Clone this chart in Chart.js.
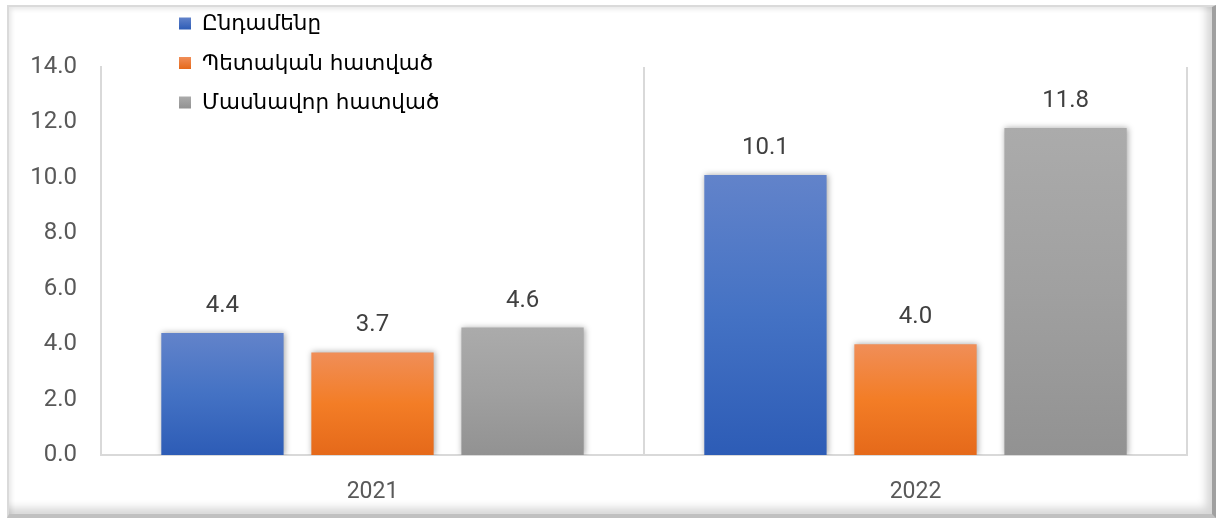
<!DOCTYPE html>
<html>
<head>
<meta charset="utf-8">
<script src="https://cdn.jsdelivr.net/npm/chart.js@4/dist/chart.umd.min.js"></script>
<style>
    html, body { margin: 0; padding: 0; background: #fff; }
    #wrap { position: relative; width: 1219px; height: 524px; overflow: hidden; }
    /* bevelled frame around the chart */
    #frame {
        position: absolute; left: 7px; top: 5px; width: 1203px; height: 507px;
        border-top: 2px solid #dadada; border-left: 2px solid #dadada;
        border-right: 4px solid #a0a0a0; border-bottom: 4px solid #c0c0c0;
        box-shadow: inset -9px -9px 9px -3px rgba(0,0,0,0.16), inset 4px 4px 5px -2px rgba(0,0,0,0.10);
    }
    #chart { position: absolute; left: 0; top: 0; }
</style>
</head>
<body>
<div id="wrap">
    <div id="frame"></div>
    <canvas id="chart" width="1219" height="524"></canvas>
</div>
<script>
// Data
const years = ['2021', '2022'];
const seriesNames = ['Ընդամենը', 'Պետական հատված', 'Մասնավոր հատված'];
const totalValues = [4.4, 10.1];
const publicValues = [3.7, 4.0];
const privateValues = [4.6, 11.8];
const yTicks = [0, 2, 4, 6, 8, 10, 12, 14];

// gradient stops per series (top, middle, bottom)
const gradients = [
    ['#6283ca', '#4472c4', '#2d5cb6'],
    ['#f08e58', '#f37d26', '#e5691a'],
    ['#ababab', '#a0a0a0', '#929292']
];

function barGradient(idx) {
    return function(context) {
        const chart = context.chart;
        if (!chart.chartArea || context.type !== 'data') return gradients[idx][1];
        const yScale = chart.scales.y;
        const top = yScale.getPixelForValue(context.raw);
        const base = yScale.getPixelForValue(0);
        const g = chart.ctx.createLinearGradient(0, top, 0, base);
        g.addColorStop(0, gradients[idx][0]);
        g.addColorStop(0.5, gradients[idx][1]);
        g.addColorStop(1, gradients[idx][2]);
        return g;
    };
}

// soft shadow behind the bars
const barShadow = {
    id: 'barShadow',
    beforeDatasetsDraw(chart) {
        const ctx = chart.ctx;
        ctx.save();
        ctx.shadowColor = 'rgba(0,0,0,0.35)';
        ctx.shadowBlur = 6;
        ctx.shadowOffsetX = 1;
        ctx.shadowOffsetY = 0;
    },
    afterDatasetsDraw(chart) {
        chart.ctx.restore();
    }
};

// values above bars
const valueLabels = {
    id: 'valueLabels',
    afterDatasetsDraw(chart) {
        const ctx = chart.ctx;
        ctx.save();
        ctx.font = '24px Roboto';
        ctx.fillStyle = '#404040';
        ctx.textAlign = 'center';
        ctx.textBaseline = 'bottom';
        chart.data.datasets.forEach((ds, i) => {
            chart.getDatasetMeta(i).data.forEach((bar, j) => {
                ctx.fillText(ds.data[j].toFixed(1), bar.x, bar.y - 15);
            });
        });
        ctx.restore();
    }
};

// legend drawn inside the plot, top left
const innerLegend = {
    id: 'innerLegend',
    afterDraw(chart) {
        const ctx = chart.ctx;
        ctx.save();
        ctx.font = '21.5px "DejaVu Sans", "Noto Sans", sans-serif';
        ctx.textBaseline = 'middle';
        chart.data.datasets.forEach((ds, i) => {
            const y = 23.5 + i * 39.5;
            const g = ctx.createLinearGradient(0, y - 6, 0, y + 6);
            g.addColorStop(0, gradients[i][0]);
            g.addColorStop(1, gradients[i][2]);
            ctx.fillStyle = g;
            ctx.fillRect(179, y - 6, 12, 12);
            ctx.fillStyle = '#000';
            ctx.fillText(ds.label, 202, y + 1);
        });
        ctx.restore();
    }
};

new Chart(document.getElementById('chart'), {
    type: 'bar',
    data: {
        labels: years,
        datasets: [
            { label: seriesNames[0], data: totalValues, backgroundColor: barGradient(0) },
            { label: seriesNames[1], data: publicValues, backgroundColor: barGradient(1) },
            { label: seriesNames[2], data: privateValues, backgroundColor: barGradient(2) }
        ]
    },
    options: {
        responsive: false,
        animation: false,
        layout: { padding: { left: 0, right: 32, top: 67, bottom: 0 } },
        datasets: {
            bar: { categoryPercentage: 0.829, barPercentage: 0.815, borderWidth: 0 }
        },
        plugins: {
            legend: { display: false },
            tooltip: { enabled: false }
        },
        scales: {
            x: {
                grid: { display: true, offset: true, color: '#d9d9d9', lineWidth: 2, drawTicks: false },
                border: { display: true, color: '#d9d9d9', width: 2 },
                ticks: { font: { family: 'Roboto', size: 23 }, color: '#595959', padding: 23 },
                afterFit(scale) { scale.height = 69; }
            },
            y: {
                min: 0,
                max: 14,
                afterBuildTicks(scale) { scale.ticks = yTicks.map(v => ({ value: v })); },
                grid: { display: false, drawTicks: false },
                border: { display: true, color: '#d9d9d9', width: 2 },
                ticks: {
                    font: { family: 'Roboto', size: 24 },
                    color: '#595959',
                    padding: 24,
                    callback: v => v.toFixed(1)
                },
                afterFit(scale) { scale.width = 101; }
            }
        }
    },
    plugins: [barShadow, valueLabels, innerLegend]
});
</script>
</body>
</html>
